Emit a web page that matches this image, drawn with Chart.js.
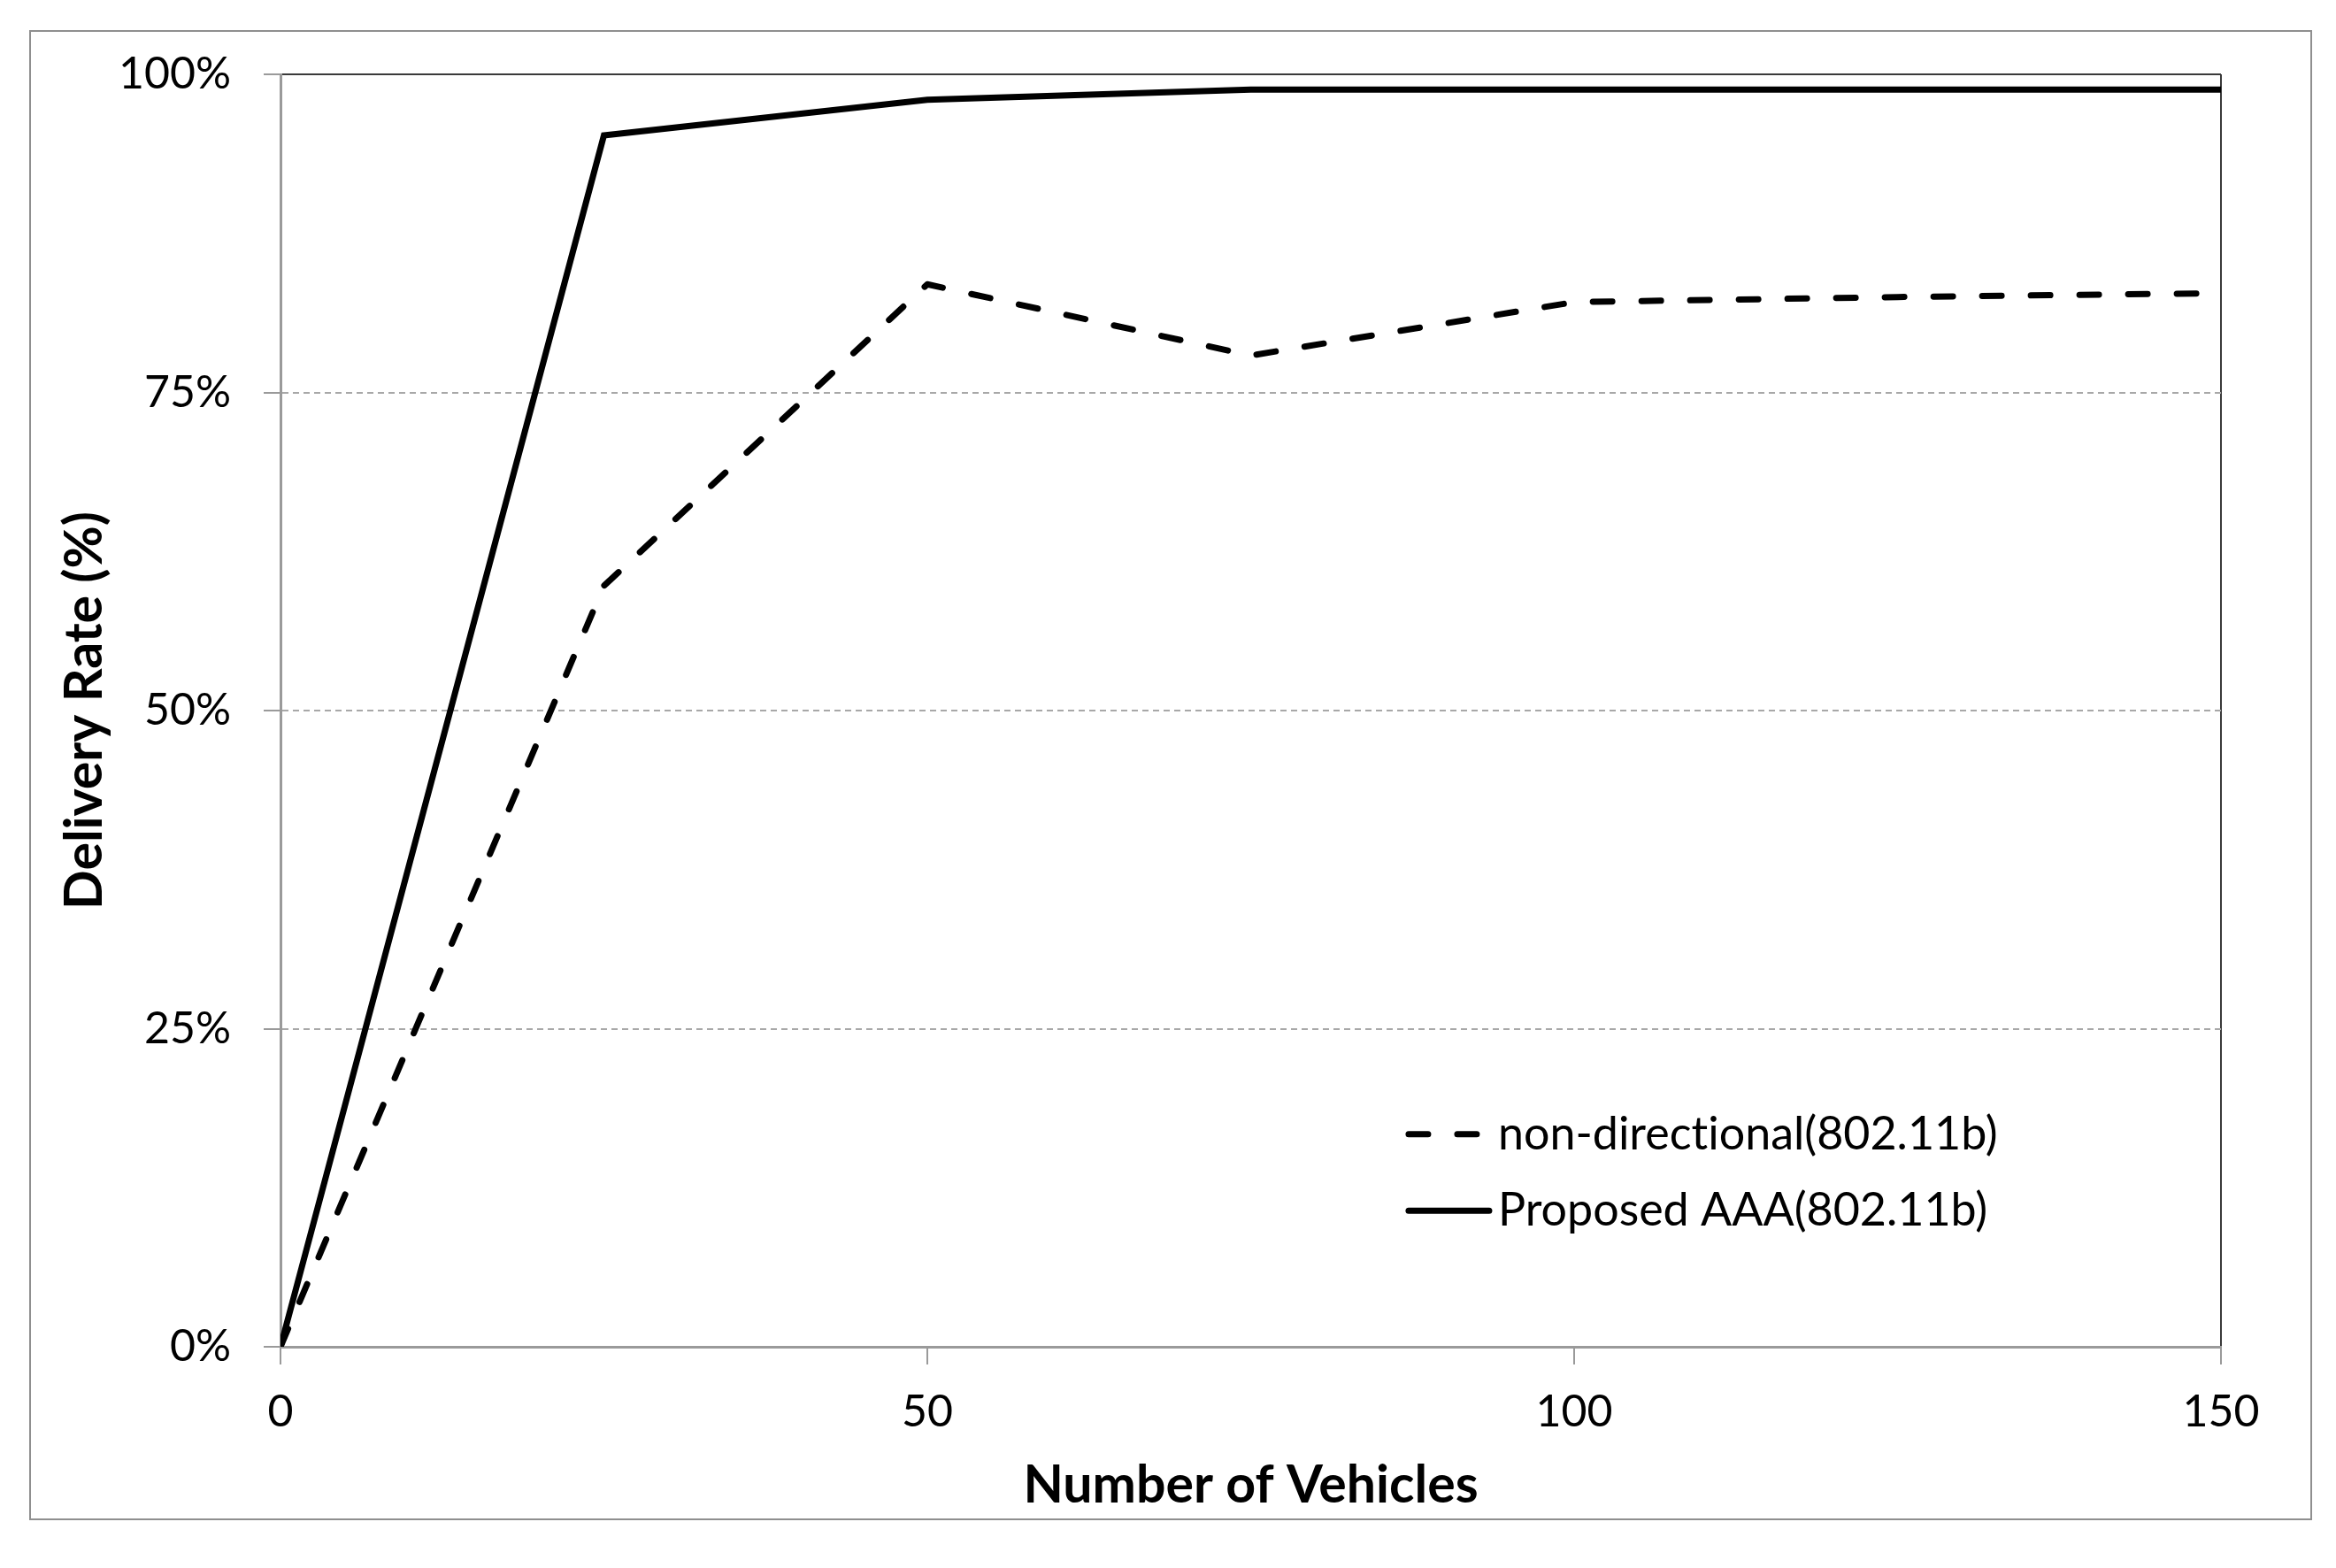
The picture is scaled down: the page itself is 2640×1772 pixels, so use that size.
<!DOCTYPE html>
<html>
<head>
<meta charset="utf-8">
<script src="https://cdn.jsdelivr.net/npm/chart.js@4.4.1/dist/chart.umd.min.js"></script>
<style>
    html, body { margin: 0; padding: 0; background: #fff; }
    #frame {
        position: absolute;
        left: 33px;
        top: 34px;
        width: 2580px;
        height: 1684px;
        border: 2px solid #8f8f8f;
        box-sizing: border-box;
    }
    #myChart { position: absolute; left: 0; top: 0; }
</style>
</head>
<body>
<div id="frame"></div>
<canvas id="myChart" width="2640" height="1772"></canvas>
<script>
const vehicles = [0, 25, 50, 75, 100, 125, 150];
const nonDirectional = [0, 59.8, 83.5, 77.9, 82.1, 82.5, 82.8];
const proposedAAA = [0, 95.2, 98.0, 98.8, 98.8, 98.8, 98.8];
const seriesLabels = ['non-directional(802.11b)', 'Proposed AAA(802.11b)'];
const xTicks = [0, 50, 100, 150];
const yTicks = [0, 25, 50, 75, 100];

Chart.defaults.font.family = 'Lato, "Noto Sans", sans-serif';
Chart.defaults.color = '#000';

function toPoints(values) {
    return vehicles.map((v, i) => ({ x: v, y: values[i] }));
}

// legend sits inside the plot area, bottom right
const insideLegend = {
    id: 'insideLegend',
    afterDraw(chart) {
        const { ctx, chartArea } = chart;
        const left = chartArea.left + 0.58 * chartArea.width;
        const rows = [0.833, 0.893];
        ctx.save();
        chart.data.datasets.forEach((ds, i) => {
            const y = chartArea.top + rows[i] * chartArea.height;
            ctx.beginPath();
            ctx.lineWidth = ds.borderWidth;
            ctx.strokeStyle = ds.borderColor;
            ctx.lineCap = 'round';
            ctx.setLineDash(ds.borderDash || []);
            ctx.moveTo(left + 3, y);
            ctx.lineTo(left + (ds.borderDash ? 87 : 94), y);
            ctx.stroke();
            ctx.setLineDash([]);
            ctx.fillStyle = '#000';
            ctx.font = '52px Lato, "Noto Sans", sans-serif';
            ctx.textRendering = 'optimizeSpeed';
            ctx.textBaseline = 'middle';
            ctx.fillText(ds.label, left + 104, y);
        });
        ctx.restore();
    }
};

const ctx = document.getElementById('myChart').getContext('2d');
const myChart = new Chart(ctx, {
    type: 'line',
    data: {
        datasets: [{
            label: seriesLabels[0],
            data: toPoints(nonDirectional),
            borderColor: '#000',
            borderWidth: 7,
            borderDash: [22, 33],
            borderCapStyle: 'round',
            borderJoinStyle: 'round',
            pointRadius: 0,
            tension: 0
        }, {
            label: seriesLabels[1],
            data: toPoints(proposedAAA),
            borderColor: '#000',
            borderWidth: 7,
            borderJoinStyle: 'miter',
            pointRadius: 0,
            tension: 0
        }]
    },
    options: {
        responsive: false,
        animation: false,
        devicePixelRatio: 1,
        layout: {
            padding: { left: 0, top: 84, right: 130, bottom: 58 }
        },
        plugins: {
            legend: { display: false },
            tooltip: { enabled: false }
        },
        scales: {
            x: {
                type: 'linear',
                min: 0,
                max: 150,
                afterBuildTicks: scale => {
                    scale.ticks = xTicks.map(v => ({ value: v }));
                },
                afterFit: scale => {
                    scale.height = 192;
                },
                ticks: {
                    font: { size: 50 },
                    padding: 24,
                    maxRotation: 0
                },
                grid: {
                    color: c => (c.tick && c.tick.value === 150) ? '#3a3a3a' : 'rgba(0,0,0,0)',
                    lineWidth: 2,
                    tickColor: '#9a9a9a',
                    tickLength: 20,
                    tickWidth: 2
                },
                border: { color: '#9a9a9a', width: 3 },
                title: {
                    display: true,
                    text: 'Number of Vehicles',
                    font: { size: 59, weight: 'bold' },
                    padding: { top: 0, bottom: 0 }
                }
            },
            y: {
                min: 0,
                max: 100,
                afterBuildTicks: scale => {
                    scale.ticks = yTicks.map(v => ({ value: v }));
                },
                afterFit: scale => {
                    scale.width = 317;
                },
                ticks: {
                    font: { size: 50 },
                    padding: 37,
                    callback: v => v + '%'
                },
                grid: {
                    color: c => (c.tick && c.tick.value === 100) ? '#3a3a3a' : '#a8a8a8',
                    lineWidth: 2,
                    tickColor: '#9a9a9a',
                    tickLength: 19,
                    tickWidth: 2
                },
                border: {
                    color: '#9a9a9a',
                    width: 3,
                    dash: c => (c.tick && c.tick.value > 0 && c.tick.value < 100) ? [7, 5] : []
                },
                title: {
                    display: true,
                    text: 'Delivery Rate (%)',
                    font: { size: 59, weight: 'bold' },
                    padding: { top: 61, bottom: 0 }
                }
            }
        }
    },
    plugins: [insideLegend]
});
</script>
</body>
</html>
